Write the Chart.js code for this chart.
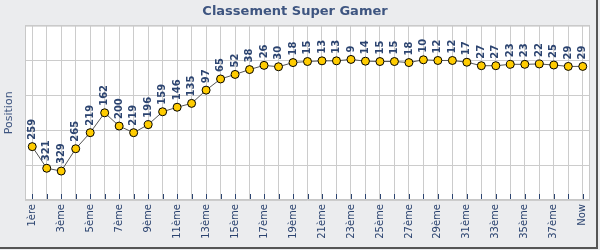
<!DOCTYPE html>
<html>
<head>
<meta charset="utf-8">
<script src="https://cdn.jsdelivr.net/npm/chart.js@4/dist/chart.umd.min.js"></script>
<style>
  body { margin: 0; background: #fff; }
  #wrap { width: 600px; height: 250px; }
</style>
</head>
<body>
<div id="wrap"><canvas id="graphe" width="600" height="250"></canvas></div>
<script>
const categories = [];
for (let i = 1; i <= 38; i++) categories.push(i === 1 ? '1ère' : i + 'ème');
categories.push('Now');

const positions = [259, 321, 329, 265, 219, 162, 200, 219, 196, 159,
                   146, 135, 97, 65, 52, 38, 26, 30, 18, 15,
                   13, 13, 9, 14, 15, 15, 18, 10, 12, 12,
                   17, 27, 27, 23, 23, 22, 25, 29, 29];

const gridLevels = [-88, 12, 112, 212, 312, 412];

const bleu = '#2c4470';

const decor = {
  id: 'decor',
  beforeDraw(chart) {
    const { ctx, chartArea: a } = chart;
    ctx.save();
    ctx.fillStyle = '#ebecee';
    ctx.fillRect(0, 0, chart.width, chart.height);
    ctx.fillStyle = '#ffffff';
    ctx.fillRect(a.left, a.top, a.right - a.left, a.bottom - a.top);
    ctx.restore();
  },
  afterDraw(chart) {
    const { ctx, chartArea: a } = chart;
    ctx.save();
    ctx.strokeStyle = '#c8c8c8';
    ctx.lineWidth = 1;
    ctx.strokeRect(a.left + 0.5, a.top + 0.5, a.right - a.left - 1, a.bottom - a.top - 1);
    // petites marques en bas
    const x = chart.scales.x;
    ctx.strokeStyle = bleu;
    x.ticks.forEach((t, i) => {
      const px = Math.round(x.getPixelForTick(i)) + 0.5;
      ctx.beginPath();
      ctx.moveTo(px, a.bottom - 6);
      ctx.lineTo(px, a.bottom - 1);
      ctx.stroke();
    });
    // bordure du cadre
    ctx.strokeStyle = '#555';
    ctx.lineWidth = 2;
    ctx.beginPath();
    ctx.moveTo(597, 0);
    ctx.lineTo(597, 248);
    ctx.lineTo(0, 248);
    ctx.stroke();
    ctx.restore();
  },
  afterDatasetsDraw(chart) {
    const { ctx } = chart;
    const meta = chart.getDatasetMeta(0);
    ctx.save();
    ctx.fillStyle = bleu;
    ctx.font = 'bold 10px "DejaVu Sans"';
    ctx.textAlign = 'left';
    ctx.textBaseline = 'middle';
    meta.data.forEach((pt, i) => {
      ctx.save();
      ctx.translate(pt.x, pt.y - 7);
      ctx.rotate(-Math.PI / 2);
      ctx.fillText(String(positions[i]), 0, 0);
      ctx.restore();
    });
    ctx.restore();
  }
};

new Chart(document.getElementById('graphe'), {
  type: 'line',
  data: {
    labels: categories,
    datasets: [{
      label: 'Position',
      data: positions,
      borderColor: '#555555',
      borderWidth: 1,
      pointBackgroundColor: '#ffcc00',
      pointBorderColor: '#000000',
      pointBorderWidth: 1,
      pointRadius: 4,
      tension: 0
    }]
  },
  options: {
    responsive: false,
    animation: false,
    layout: { padding: { left: 0, right: 10, top: 0, bottom: 0 } },
    plugins: {
      legend: { display: false },
      tooltip: { enabled: false },
      title: {
        display: true,
        text: 'Classement Super Gamer',
        color: '#3e5580',
        font: { family: 'DejaVu Sans', size: 13, weight: 'bold' },
        padding: { top: 4, bottom: 6 }
      }
    },
    scales: {
      x: {
        offset: true,
        grid: { offset: false, color: '#cccccc', drawTicks: false },
        border: { display: false },
        ticks: {
          autoSkip: false,
          maxRotation: 90,
          minRotation: 90,
          padding: 4,
          color: bleu,
          font: { family: 'DejaVu Sans', size: 10 },
          callback: (v, i) => (i % 2 === 0 ? categories[i] : '')
        },
        afterFit: s => { s.height = 50; }
      },
      y: {
        reverse: true,
        min: -88,
        max: 412,
        afterBuildTicks: s => { s.ticks = gridLevels.map(v => ({ value: v })); },
        grid: { color: '#cccccc', drawTicks: false },
        border: { display: false },
        ticks: { display: false },
        title: {
          display: true,
          text: 'Position',
          color: '#3e5580',
          font: { family: 'DejaVu Sans', size: 11 },
          padding: { top: 3, bottom: 0 }
        },
        afterFit: s => { s.width = 25; }
      }
    }
  },
  plugins: [decor]
});
</script>
</body>
</html>
